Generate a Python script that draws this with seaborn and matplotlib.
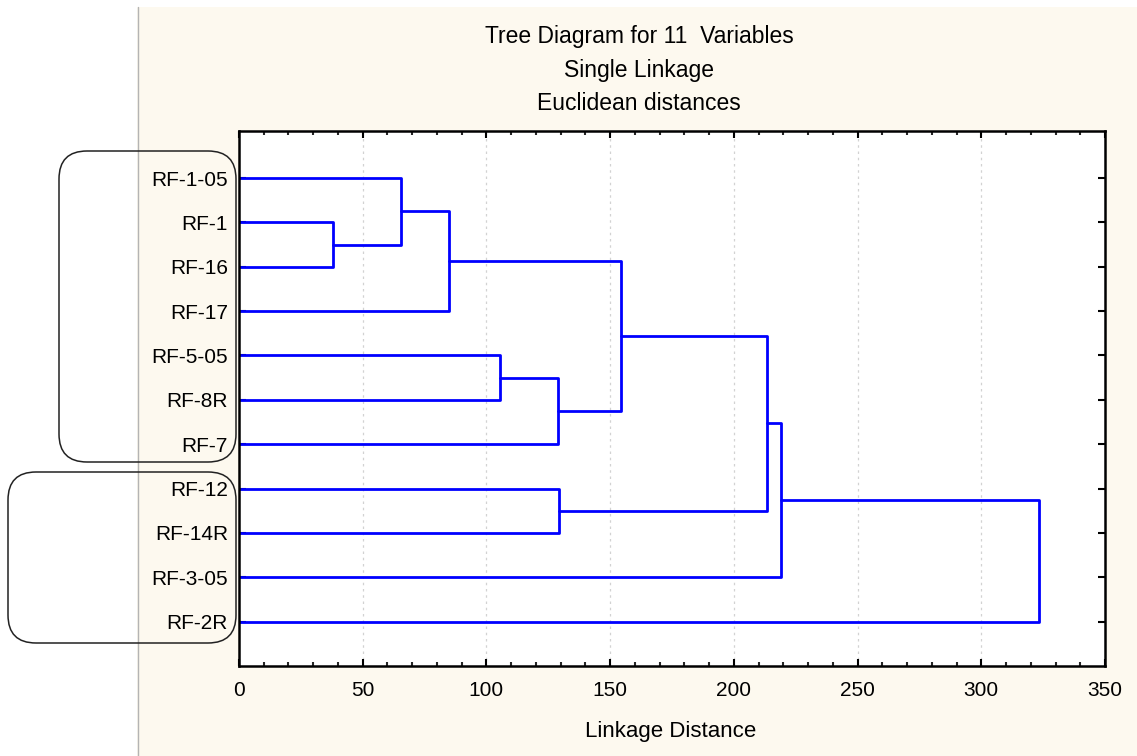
import matplotlib
matplotlib.use("Agg")
import matplotlib.pyplot as plt
from matplotlib.patches import FancyBboxPatch, Rectangle
from matplotlib.lines import Line2D
from matplotlib.transforms import IdentityTransform
from matplotlib.ticker import MultipleLocator
import pandas as pd
import seaborn as sns

# Leaves, top to bottom
leaves = ["RF-1-05", "RF-1", "RF-16", "RF-17", "RF-5-05", "RF-8R", "RF-7",
          "RF-12", "RF-14R", "RF-3-05", "RF-2R"]

# Single-linkage merges: (left member, right member, linkage distance)
# members are leaf names or "c<k>" for the k-th cluster formed below
merge_left = ["RF-1", "RF-1-05", "c2", "RF-5-05", "c4", "c3", "RF-12", "c6", "c8", "c9"]
merge_right = ["RF-16", "c1", "RF-17", "RF-8R", "RF-7", "c5", "RF-14R", "c7", "RF-3-05", "RF-2R"]
merge_dist = [38.0, 65.5, 85.0, 105.5, 129.0, 154.5, 129.5, 213.5, 219.0, 323.5]

x_ticks = [0, 50, 100, 150, 200, 250, 300, 350]

W, H, DPI = 1137, 756, 100

# Build the dendrogram link segments
pos = {name: (i + 1, 0.0) for i, name in enumerate(leaves)}
rows = []
for k, (a, b, d) in enumerate(zip(merge_left, merge_right, merge_dist), start=1):
    ya, xa = pos[a]
    yb, xb = pos[b]
    for x, y in [(xa, ya), (d, ya), (d, yb), (xb, yb)]:
        rows.append({"link": k, "dist": x, "row": y})
    pos[f"c{k}"] = ((ya + yb) / 2.0, d)
links = pd.DataFrame(rows)

sns.set_style("ticks")
plt.rcParams["font.family"] = ["Liberation Sans", "DejaVu Sans"]
plt.rcParams["text.color"] = "black"

fig = plt.figure(figsize=(W / DPI, H / DPI), dpi=DPI)
fig.patch.set_facecolor("white")

# cream panel and its left rule
fig.add_artist(Rectangle((137 / W, 0), 1 - 137 / W, 1 - 7 / H, transform=fig.transFigure,
                         facecolor="#fdf9ef", edgecolor="none", zorder=-5))
fig.add_artist(Line2D([137.5 / W, 137.5 / W], [0, 1 - 7 / H], transform=fig.transFigure,
                      color="#b4b4b4", lw=1.0, zorder=-4))

ax = fig.add_axes([239 / W, 1 - 666 / H, (1105 - 239) / W, (666 - 131) / H])
ax.set_facecolor("white")

sns.lineplot(data=links, x="dist", y="row", units="link", estimator=None, sort=False,
             color="#0000ff", lw=2.0, ax=ax, legend=False)

ax.set_xlim(0, 350)
ax.set_ylim(12.0, -0.06)
ax.set_xticks(x_ticks)
ax.set_xticklabels([str(t) for t in x_ticks])
ax.xaxis.set_minor_locator(MultipleLocator(10))
ax.set_yticks(range(1, len(leaves) + 1))
ax.set_yticklabels(leaves)
ax.set_xlabel("")
ax.set_ylabel("")

for x in x_ticks[1:-1]:
    ax.axvline(x, color="#d2d2d2", lw=0.9, ls=(0, (2, 3)), zorder=0)

for s in ax.spines.values():
    s.set_visible(True)
    s.set_linewidth(1.8)
    s.set_color("black")

ax.tick_params(axis="x", which="major", direction="in", length=5, width=1.5,
               top=True, bottom=True, labelsize=15, pad=11, colors="black")
ax.tick_params(axis="x", which="minor", direction="in", length=3, width=1.5,
               top=True, bottom=True)
ax.tick_params(axis="y", which="major", direction="in", length=5, width=1.5,
               left=True, right=True, labelsize=15, pad=8, colors="black")

fig.text(639 / W, 1 - 36 / H, "Tree Diagram for 11  Variables", ha="center", va="center", fontsize=16.5)
fig.text(639 / W, 1 - 70 / H, "Single Linkage", ha="center", va="center", fontsize=16.5)
fig.text(639 / W, 1 - 104 / H, "Euclidean distances", ha="center", va="center", fontsize=16.5)
fig.text(671 / W, 1 - 732 / H, "Linkage Distance", ha="center", va="center", fontsize=16)

# rounded frames around the two leaf groups (pixel coordinates)
for x0, y0, x1, y1 in [(59, 151, 236, 462), (8, 472, 236, 643)]:
    fig.add_artist(FancyBboxPatch((x0, H - y1), x1 - x0, y1 - y0,
                                  boxstyle="round,pad=0,rounding_size=28",
                                  transform=IdentityTransform(),
                                  facecolor="none", edgecolor="#222222", lw=1.1, zorder=5))

fig.savefig("out.png", dpi=DPI)
